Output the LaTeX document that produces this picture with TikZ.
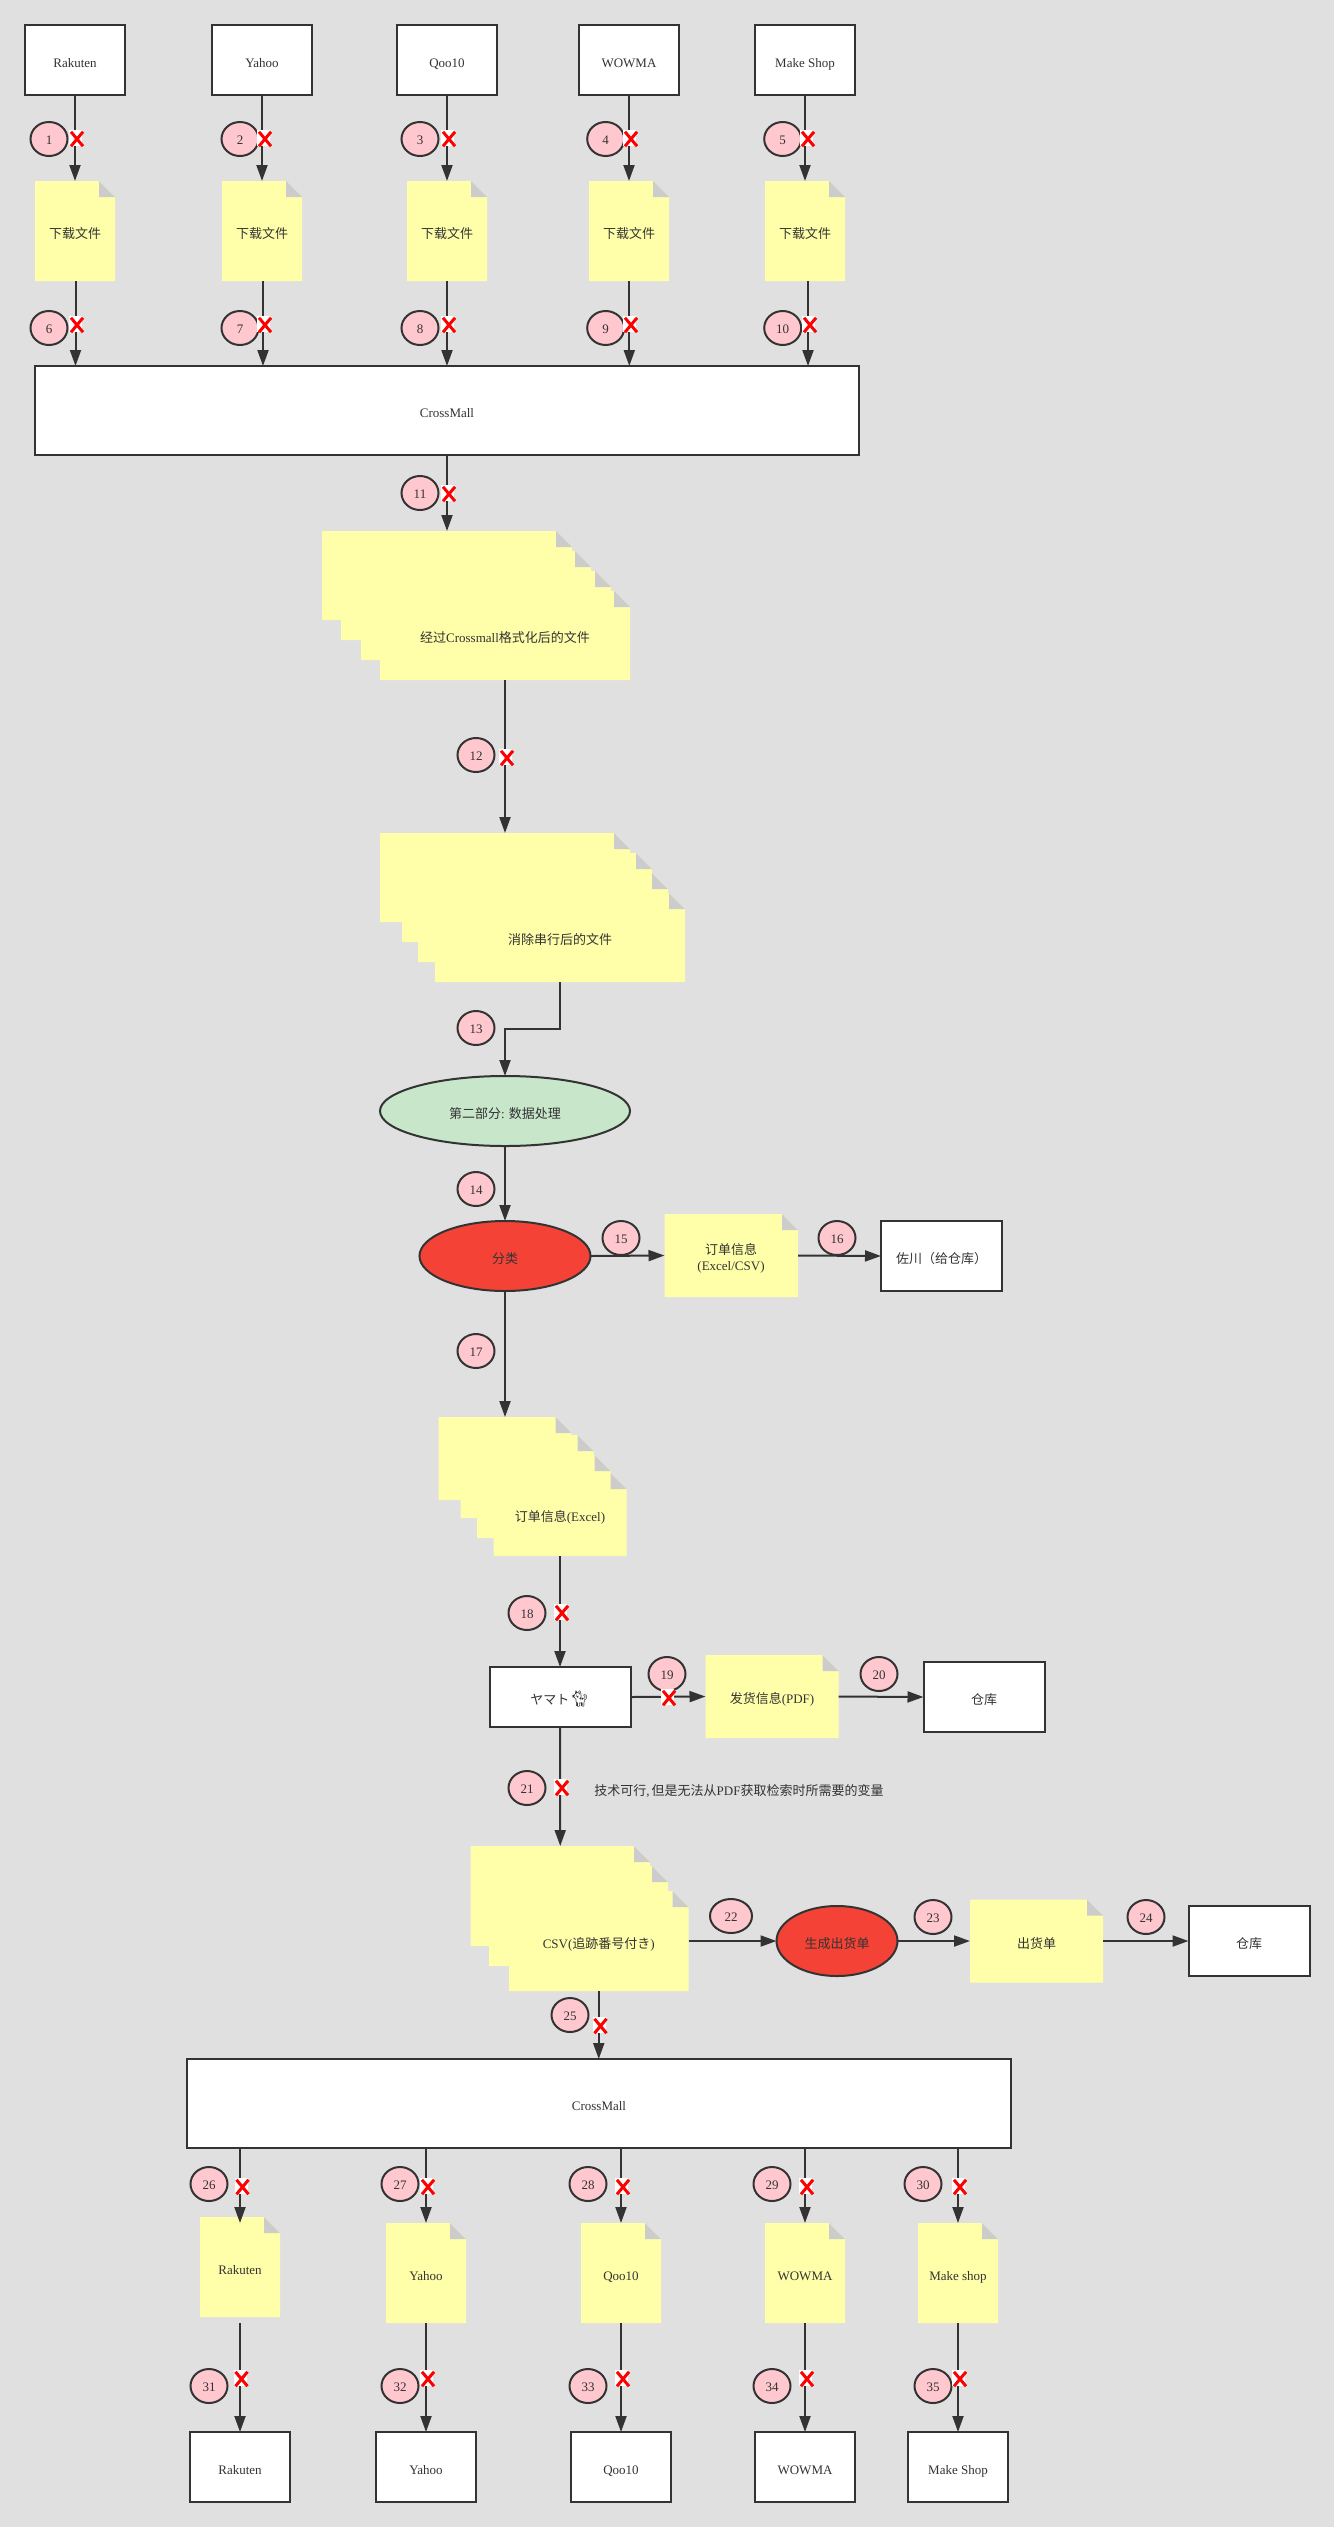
\documentclass[tikz,border=0pt]{standalone}
\usepackage{fontspec}
\setmainfont{Liberation Serif}
\newfontfamily\cjk{Noto Sans CJK SC}
\newfontfamily\emoji{Noto Emoji}
\usetikzlibrary{arrows.meta,shapes.geometric,shapes.misc}
\definecolor{pagegray}{HTML}{E0E0E0}
\definecolor{inkgray}{HTML}{333333}
\definecolor{docyellow}{HTML}{FFFFA9}
\definecolor{foldgray}{HTML}{CCCCCC}
\definecolor{numpink}{HTML}{FFC8CF}
\definecolor{stepgreen}{HTML}{C8E6C9}
\definecolor{stepred}{HTML}{F44336}
\newcommand{\zh}[1]{{\cjk #1}}
\tikzset{
    x=0.5pt, y=-0.5pt,
    every node/.style={font=\fontsize{6.5}{8}\selectfont, text=inkgray, inner sep=0pt, outer sep=0pt, text height=7.2pt, text depth=0pt},
    link/.style={draw=inkgray, line width=1pt, -{Triangle[length=8pt,width=5.5pt]}},
    plainbox/.style={draw=inkgray, line width=1pt, fill=white, minimum width=50pt, minimum height=35pt},
    mallbox/.style={plainbox, minimum width=412pt, minimum height=44.5pt},
    whbox/.style={plainbox, minimum width=60.5pt},
    numlabel/.style={ellipse, draw=inkgray, line width=1pt, fill=numpink, minimum width=18.5pt, minimum height=17pt, text height=5.4pt},
    stepellipse/.style={ellipse, draw=inkgray, line width=1pt, minimum height=35pt},
    markbg/.style={fill=white, minimum width=6.5pt, minimum height=8pt},
    markcross/.style={cross out, draw=red, line width=1.5pt, minimum size=6pt}
}
% name, left, top, right, bottom, text
\newcommand{\docnode}[6]{
    \fill[docyellow] (#2,#3) -- ({#4-16},#3) -- (#4,{#3+16}) -- (#4,#5) -- (#2,#5) -- cycle;
    \fill[foldgray] ({#4-16},#3) -- (#4,{#3+16}) -- ({#4-16},{#3+16}) -- cycle;
    \node[minimum width={(#4-#2)*0.5pt}, minimum height={(#5-#3)*0.5pt}] (#1) at ({(#2+#4)/2},{(#3+#5)/2}) {#6};
}
\begin{document}
\begin{tikzpicture}
\path[use as bounding box, fill=pagegray] (0,0) rectangle (1334,2527);

\foreach \i/\px/\name in {1/75/Rakuten, 2/262/Yahoo, 3/447/Qoo10, 4/629/WOWMA, 5/805/Make Shop} {
    \node[plainbox] (shop\i) at (\px,60) {\name};
    \docnode{file\i}{\px-40}{181}{\px+40}{281}{\zh{下载文件}}
}
\node[mallbox] (mall1) at (447,410.5) {CrossMall};

\docnode{fmt1}{322}{531}{572}{620}{}
\docnode{fmt2}{341}{551}{591}{640}{}
\docnode{fmt3}{361}{571}{611}{660}{}
\docnode{fmt4}{380}{591}{630}{680}{\zh{经过}Crossmall\zh{格式化后的文件}}

\docnode{trim1}{380}{833}{630}{922}{}
\docnode{trim2}{402}{853}{652}{942}{}
\docnode{trim3}{418}{873}{668}{962}{}
\docnode{trim4}{435}{893}{685}{982}{\zh{消除串行后的文件}}

\node[stepellipse, fill=stepgreen, minimum width=125pt] (second) at (505,1111) {\zh{第二部分}: \zh{数据处理}};
\node[stepellipse, fill=stepred, minimum width=85.5pt] (sort) at (505,1256) {\zh{分类}};
\docnode{info}{664.5}{1214}{798}{1297}{}
\node[text height=, text depth=, align=center] (infotext) at (731,1258) {\zh{订单信息}\\(Excel/CSV)};
\node[whbox] (sagawa) at (941.5,1256) {\zh{佐川（给仓库）}};

\docnode{excel1}{438.5}{1417}{571.5}{1500}{}
\docnode{excel2}{460.5}{1435}{593.5}{1518}{}
\docnode{excel3}{477}{1455}{610.5}{1538}{}
\docnode{excel4}{493.5}{1473}{626.5}{1556}{\zh{订单信息}(Excel)}

\node[plainbox, minimum width=70.5pt, minimum height=30pt] (yamato) at (560,1697) {\zh{ヤマト}{\emoji\fontsize{8}{8}\selectfont\symbol{"1F408}}};
\docnode{ship}{705.5}{1655}{838.5}{1738}{\zh{发货信息}(PDF)}
\node[whbox] (wh1) at (984,1697) {\zh{仓库}};
\node (note) at (739,1788) {\zh{技术可行},\kern1pt\zh{但是无法从}PDF\zh{获取检索时所需要的变量}};

\docnode{csv1}{470.5}{1846}{650}{1946}{}
\docnode{csv2}{489}{1866}{668}{1966}{}
\docnode{csv3}{509}{1891}{688.5}{1991}{CSV(\zh{追跡番号付き})}
\node[stepellipse, fill=stepred, minimum width=60.5pt] (gen) at (837,1941) {\zh{生成出货单}};
\docnode{slip}{970}{1899.5}{1103}{1982.5}{\zh{出货单}}
\node[whbox] (wh2) at (1249,1941) {\zh{仓库}};

\node[mallbox] (mall2) at (599,2103.5) {CrossMall};
\docnode{back1}{200}{2217}{280}{2317}{Rakuten}
\foreach \i/\px/\name in {2/426/Yahoo, 3/621/Qoo10, 4/805/WOWMA, 5/958/Make shop} {
    \docnode{back\i}{\px-40}{2223}{\px+40}{2323}{\name}
}
\foreach \i/\px/\name in {1/240/Rakuten, 2/426/Yahoo, 3/621/Qoo10, 4/805/WOWMA, 5/958/Make Shop} {
    \node[plainbox] (out\i) at (\px,2467) {\name};
}

\foreach \i in {1,...,5} {
    \draw[link] (shop\i.south) -- (file\i.north);
}
\foreach \i/\dx in {1/0.25pt, 2/0.5pt, 3/0pt, 4/0.15pt, 5/1.5pt} {
    \draw[link] ([xshift=\dx]file\i.south) -- ([xshift=\dx]file\i.south |- mall1.north);
}
\draw[link] (mall1.south) -- (fmt1.north);
\draw[link] (fmt4.south) -- (trim1.north);
\coordinate (elbow) at (trim4.south |- 0,1029);
\draw[link] (trim4.south) -- (elbow) -| (second.north);
\draw[link] (second.south) -- (sort.north);
\draw[link] (sort.east) -- (info.west);
\draw[link] (info.east) -- (sagawa.west);
\draw[link] (sort.south) -- (excel1.north);
\draw[link] (excel4.south) -- (yamato.north);
\draw[link] (yamato.east) -- (ship.west);
\draw[link] (ship.east) -- (wh1.west);
\draw[link] (yamato.south) -- (csv1.north);
\draw[link] (csv3.east) -- (gen.west);
\draw[link] (gen.east) -- (slip.west);
\draw[link] (slip.east) -- (wh2.west);
\draw[link] (csv3.south) -- (csv3.south |- mall2.north);
\foreach \i in {1,...,5} {
    \draw[link] (out\i.north |- mall2.south) -- (out\i.north |- 0,2223);
    \draw[link] (out\i.north |- 0,2323) -- (out\i.north);
}

\foreach \num/\lx/\ly in {1/49/139, 2/240/139, 3/420/139, 4/605.7/139, 5/782.7/139,
    6/49/328, 7/240/328, 8/420/328, 9/605.7/328, 10/782.7/328, 11/420/493, 12/476/755,
    13/476/1028, 14/476/1189, 15/621/1238, 16/837/1238, 17/476/1351, 18/527/1613,
    19/667/1674, 20/879/1674, 21/527/1788, 23/933/1917, 24/1146/1917, 25/570/2015,
    26/209/2184, 27/400/2184, 28/588/2184, 29/772/2184, 30/923/2184,
    31/209/2386, 32/400/2386, 33/588/2386, 34/772/2386, 35/933/2386} {
    \node[numlabel] (num\num) at (\lx,\ly) {\num};
}
\node[numlabel, minimum width=21pt] (num22) at (731,1916) {22};

\foreach \num/\cx/\cy in {1/77/139, 2/265/139, 3/449/139, 4/631/139, 5/808/139,
    6/77/325, 7/265/325, 8/449/325, 9/631/325, 10/810/325, 11/449/494, 12/507/758,
    18/562/1613, 19/669/1698, 21/562/1788, 25/600.5/2026,
    26/242.5/2187, 27/428/2187, 28/623/2187, 29/807/2187, 30/960/2187,
    31/241.5/2379, 32/428/2379, 33/623/2379, 34/807/2379, 35/960/2379} {
    \node[markbg] (bg\num) at (\cx-1.5,\cy-1) {};
    \node[markcross] (mark\num) at (\cx,\cy) {};
}
\end{tikzpicture}
\end{document}
